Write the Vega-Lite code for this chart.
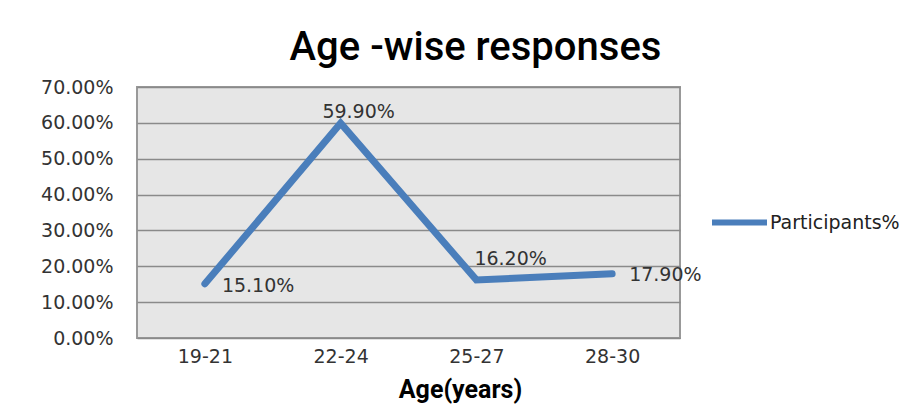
{
  "$schema": "https://vega.github.io/schema/vega-lite/v6.json",
  "width": 543,
  "height": 251,
  "autosize": {"type": "none"},
  "padding": {"left": 137, "top": 87, "right": 243, "bottom": 68},
  "background": "white",
  "title": {
    "text": "Age -wise responses",
    "font": "Roboto",
    "fontSize": 40,
    "fontWeight": 500,
    "color": "#000000",
    "anchor": "middle",
    "frame": "group",
    "dx": 67,
    "baseline": "alphabetic",
    "offset": 25,
    "dy": 47
  },
  "data": {
    "values": [
      {"age": "19-21", "pct": 0.151, "series": "Participants%"},
      {"age": "22-24", "pct": 0.599, "series": "Participants%"},
      {"age": "25-27", "pct": 0.162, "series": "Participants%"},
      {"age": "28-30", "pct": 0.179, "series": "Participants%"}
    ]
  },
  "config": {
    "view": {"fill": "#e6e6e6", "stroke": "#999999", "strokeWidth": 2},
    "axis": {
      "labelFont": "DejaVu Sans",
      "labelFontSize": 19,
      "labelColor": "#333333",
      "ticks": false,
      "domain": false
    }
  },
  "encoding": {
    "x": {
      "field": "age",
      "type": "ordinal",
      "sort": null,
      "scale": {"type": "point", "padding": 0.5},
      "axis": {
        "title": "Age(years)",
        "titleFont": "Roboto",
        "titleFontSize": 25,
        "titleFontWeight": "bold",
        "titleColor": "#000000",
        "titleX": 323,
        "titleY": 59,
        "titleBaseline": "alphabetic",
        "labelAngle": 0,
        "labelPadding": 9,
        "grid": false
      }
    },
    "y": {
      "field": "pct",
      "type": "quantitative",
      "scale": {"domain": [0, 0.7], "nice": false},
      "axis": {
        "title": null,
        "format": ".2%",
        "values": [0, 0.1, 0.2, 0.3, 0.4, 0.5, 0.6, 0.7],
        "labelPadding": 24,
        "grid": true,
        "gridColor": "#8a8a8a",
        "gridWidth": 1.4
      }
    }
  },
  "layer": [
    {
      "mark": {"type": "line", "strokeWidth": 7, "strokeCap": "round", "strokeJoin": "miter"},
      "encoding": {
        "color": {
          "field": "series",
          "type": "nominal",
          "scale": {"range": ["#4a7ebb"]},
          "legend": {
            "title": null,
            "orient": "none",
            "legendX": 572,
            "legendY": 105,
            "symbolType": "stroke",
            "symbolSize": 3025,
            "symbolStrokeWidth": 6,
            "labelFont": "DejaVu Sans",
            "labelFontSize": 19,
            "labelColor": "#222222",
            "labelOffset": 0,
            "padding": 0
          }
        }
      }
    },
    {
      "transform": [{"filter": "datum.age === '19-21'"}],
      "mark": {"type": "text", "align": "left", "baseline": "middle", "dx": 17, "dy": 2, "font": "DejaVu Sans", "fontSize": 19, "color": "#333333"},
      "encoding": {"text": {"field": "pct", "type": "quantitative", "format": ".2%"}}
    },
    {
      "transform": [{"filter": "datum.age === '22-24'"}],
      "mark": {"type": "text", "align": "center", "baseline": "middle", "dx": 18, "dy": -11, "font": "DejaVu Sans", "fontSize": 19, "color": "#333333"},
      "encoding": {"text": {"field": "pct", "type": "quantitative", "format": ".2%"}}
    },
    {
      "transform": [{"filter": "datum.age === '25-27'"}],
      "mark": {"type": "text", "align": "left", "baseline": "middle", "dx": -2, "dy": -21, "font": "DejaVu Sans", "fontSize": 19, "color": "#333333"},
      "encoding": {"text": {"field": "pct", "type": "quantitative", "format": ".2%"}}
    },
    {
      "transform": [{"filter": "datum.age === '28-30'"}],
      "mark": {"type": "text", "align": "left", "baseline": "middle", "dx": 17, "dy": 1, "font": "DejaVu Sans", "fontSize": 19, "color": "#333333"},
      "encoding": {"text": {"field": "pct", "type": "quantitative", "format": ".2%"}}
    }
  ]
}
